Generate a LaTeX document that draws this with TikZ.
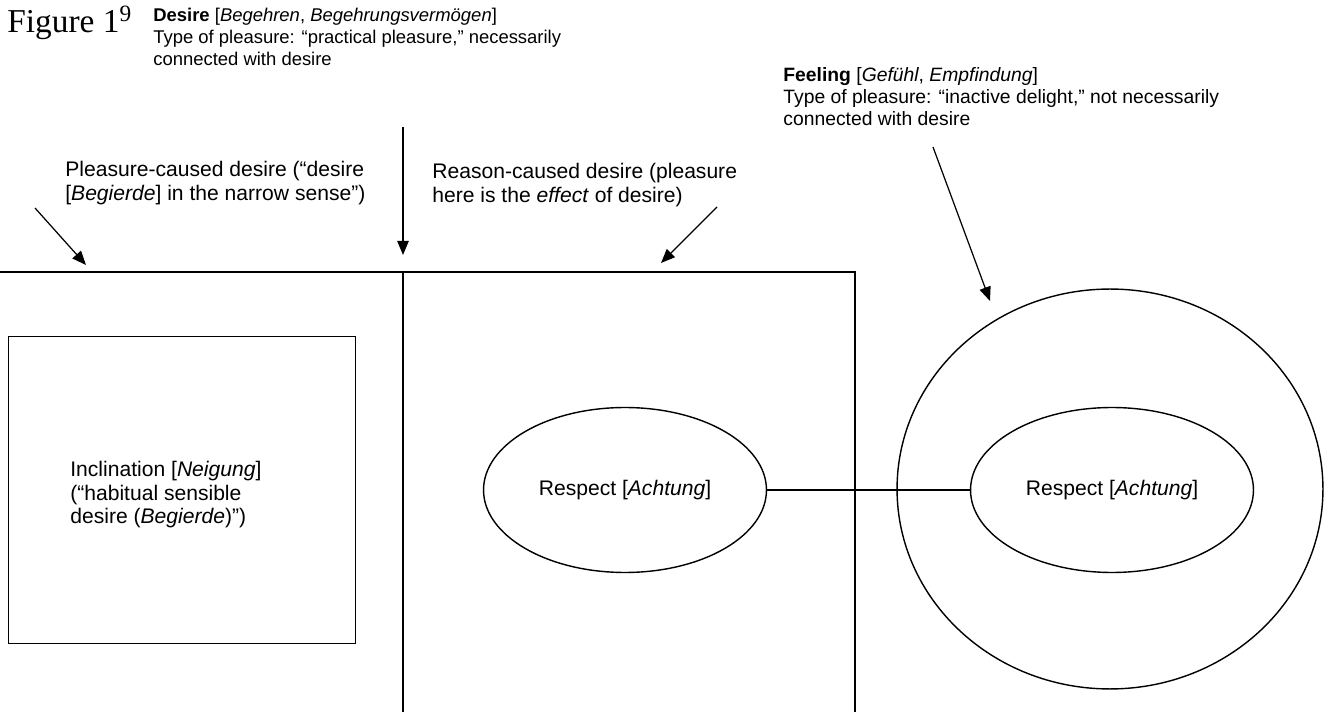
\documentclass[tikz,border=0pt]{standalone}
\usepackage{fontspec}
\setmainfont{Liberation Sans}
\newfontfamily\figfont{Liberation Serif}
\usetikzlibrary{arrows.meta,shapes.geometric,positioning}
\tikzstyle{caption} = [align=left, anchor=north west, inner sep=0pt, font=\fontsize{11}{12.6}\selectfont]
\tikzstyle{smallcaption} = [caption, font=\fontsize{10.5}{12.4}\selectfont]
\tikzstyle{bigcaption} = [caption, font=\fontsize{12}{13.4}\selectfont]
\tikzstyle{region} = [draw, line width=0.8pt]
\tikzstyle{attitude} = [ellipse, draw, line width=0.8pt, minimum width=5.66cm, minimum height=3.3cm, inner sep=0pt, font=\fontsize{12}{13.4}\selectfont]
\tikzstyle{arrow} = [line width=0.7pt, -{Triangle[length=8pt,width=6.5pt]}]

\begin{document}
\begin{tikzpicture}[x=0.02cm, y=-0.02cm]
\useasboundingbox (0,0) rectangle (1329,712);
\clip (0,0) rectangle (1329,712);

% headings
\node[anchor=base west, inner sep=0pt, font=\figfont\fontsize{19}{21}\selectfont] (fig) at (7,33) {Figure 1\textsuperscript{9}};
\node[smallcaption] (desire) at (153,8) {\textbf{Desire} [\textit{Begehren}, \textit{Begehrungsvermögen}]\\Type of pleasure: “practical pleasure,” necessarily\\connected with desire};
\node[caption] (feeling) at (783,67) {\textbf{Feeling} [\textit{Gefühl}, \textit{Empfindung}]\\Type of pleasure: “inactive delight,” not necessarily\\connected with desire};
\node[bigcaption] (pleasure) at (65,161) {Pleasure-caused desire (“desire\\{}[\textit{Begierde}] in the narrow sense”)};
\node[bigcaption] (reason) at (432,163) {Reason-caused desire (pleasure\\here is the \textit{effect} of desire)};

% the two kinds of desire
\draw[region] (-10,720) -- (-10,272) -- (855,272) -- (855,720);
\draw[region] (403,272) -- (403,720);
\node[region, anchor=north west, minimum width=6.94cm, minimum height=6.14cm] (incl) at (8,336) {};
\node[bigcaption] (incltext) at (70,461) {Inclination [\textit{Neigung}]\\(“habitual sensible\\desire (\textit{Begierde})”)};

% feeling
\node[ellipse, region, minimum width=8.52cm, minimum height=8cm] (feelcircle) at (1110,489) {};
\node[attitude] (respectA) at (625,490) {Respect [\textit{Achtung}]};
\node[attitude] (respectB) at (1112,490) {Respect [\textit{Achtung}]};
\draw[region] (respectA) -- (respectB);

% arrows
\coordinate (desiretail) at (403,127);
\coordinate (desiretip) at (403,255);
\coordinate (pleasuretail) at (35,208);
\coordinate (pleasuretip) at (86,265);
\coordinate (reasontail) at (717,207);
\coordinate (reasontip) at (661,263);
\coordinate (feelingtail) at (933,147);
\coordinate (feelingtip) at (990,301);
\draw[arrow] (desiretail) -- (desiretip);
\draw[arrow] (pleasuretail) -- (pleasuretip);
\draw[arrow] (reasontail) -- (reasontip);
\draw[arrow] (feelingtail) -- (feelingtip);
\end{tikzpicture}
\end{document}
